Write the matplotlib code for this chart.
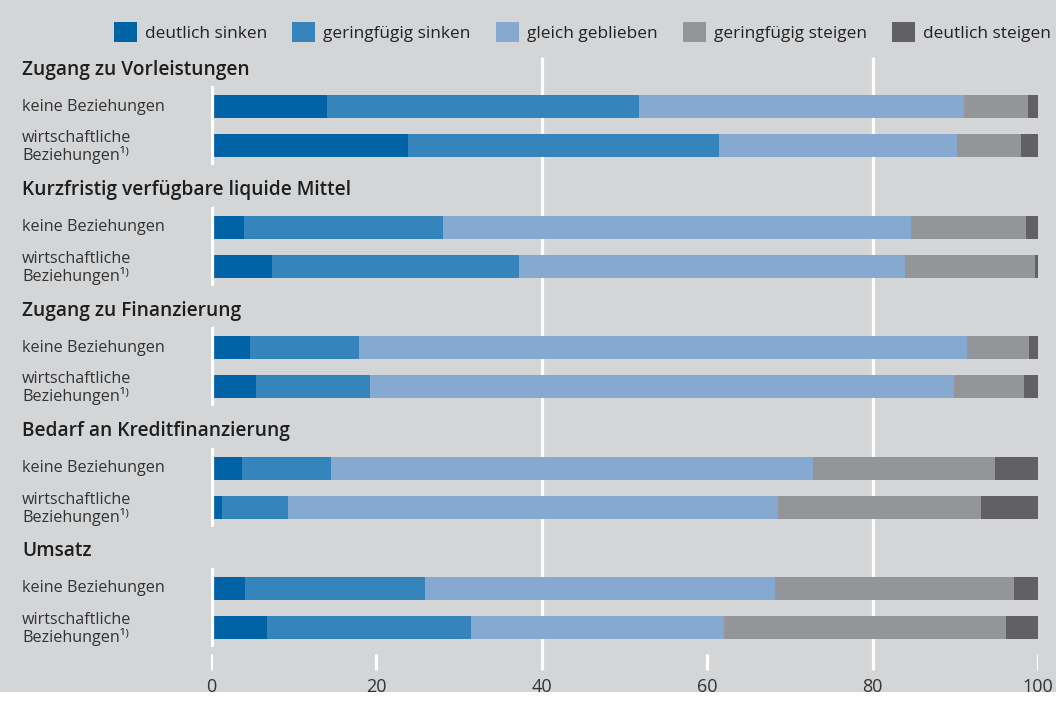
import matplotlib
matplotlib.use("Agg")
import matplotlib.pyplot as plt
import matplotlib.transforms as mtrans
from matplotlib.patches import Rectangle, Patch

# ---------------- data ----------------
groups = ["Zugang zu Vorleistungen", "Kurzfristig verfügbare liquide Mittel",
          "Zugang zu Finanzierung", "Bedarf an Kreditfinanzierung", "Umsatz"]
row_labels = ["keine Beziehungen", "wirtschaftliche\nBeziehungen¹⁾"]
series_names = ["deutlich sinken", "geringfügig sinken", "gleich geblieben",
                "geringfügig steigen", "deutlich steigen"]

# order: group1-keine, group1-wirtsch., group2-keine, ...
deutlich_sinken     = [14.0, 23.8, 4.0, 7.4, 4.7, 5.4, 3.7, 1.3, 4.1, 6.8]
geringfuegig_sinken = [37.7, 37.6, 24.1, 29.9, 13.2, 13.8, 10.8, 8.0, 21.8, 24.6]
gleich_geblieben    = [39.3, 28.8, 56.5, 46.6, 73.5, 70.7, 58.3, 59.3, 42.3, 30.6]
geringfuegig_steigen = [7.8, 7.7, 14.0, 15.7, 7.5, 8.4, 22.0, 24.5, 28.9, 34.1]
deutlich_steigen    = [1.2, 2.1, 1.4, 0.4, 1.1, 1.7, 5.2, 6.9, 2.9, 3.9]

xticks = [0, 20, 40, 60, 80, 100]
gridlines = [40, 80]

series_values = [deutlich_sinken, geringfuegig_sinken, gleich_geblieben,
                 geringfuegig_steigen, deutlich_steigen]
colors = ["#0063a5", "#3584bc", "#86a9d1", "#949598", "#616163"]

BG = "#d4d5d7"
FONT = ["Open Sans", "DejaVu Sans"]
plt.rcParams["font.family"] = FONT

W, H = 1061, 704
fig = plt.figure(figsize=(W / 100, H / 100), dpi=100)
fig.patch.set_facecolor("white")
fig.patches.append(Rectangle((0, 12 / H), 1056 / W, (H - 12) / H, transform=fig.transFigure,
                             facecolor=BG, edgecolor="none", zorder=-10))

# axes: x 0..100 mapped to pixel 211..1038, y in pixel units (top = 0)
ax = fig.add_axes([211 / W, 0, (1038 - 211) / W, 1])
ax.set_xlim(0, 100)
ax.set_ylim(H, 0)
ax.axis("off")
ax.patch.set_alpha(0)

bar_h = 23
first_center = 106.8
group_step = 120.4
row_step = 39.0

centers = []
for g in range(len(groups)):
    for r in range(len(row_labels)):
        centers.append(first_center + g * group_step + r * row_step)

lefts = [0.0] * len(centers)
for vals, col, name in zip(series_values, colors, series_names):
    ax.barh(centers, vals, left=lefts, height=bar_h, color=col,
            edgecolor="none", zorder=2, label=name)
    lefts = [a + b for a, b in zip(lefts, vals)]

# white grid lines and ticks
ax.vlines(gridlines, 57, 670, color="white", lw=2.3, zorder=1)
ax.vlines([t for t in xticks if t not in gridlines], 654, 670, color="white", lw=2.3, zorder=1)
for t in xticks:
    ax.text(t, 687, str(t), ha="center", va="center", fontsize=13, color="#333333")

# left white bar per group
for g in range(len(groups)):
    top = first_center + g * group_step - bar_h / 2 - 9
    bot = first_center + g * group_step + row_step + bar_h / 2 + 8
    ax.vlines(0, top, bot, color="white", lw=4.5, zorder=3)

# labels
tr = mtrans.blended_transform_factory(fig.transFigure, ax.transData)
for g, gname in enumerate(groups):
    yc = first_center + g * group_step
    ax.text(22 / W, yc - 37, gname, transform=tr, ha="left", va="center",
            fontsize=13.8, fontweight="semibold", color="#1e1e1e")
    for r, lab in enumerate(row_labels):
        ax.text(22 / W, yc + r * row_step + (1.5 if r else 0), lab, transform=tr,
                ha="left", va="center", fontsize=11.6, color="#333333", linespacing=1.0)

# legend
handles = [Patch(facecolor=c, edgecolor="none") for c in colors]
fig.legend(handles, series_names, loc="center right", bbox_to_anchor=(1051 / W, 1 - 32 / H),
           ncol=5, frameon=False, fontsize=12.4, handlelength=1.34, handleheight=1.34,
           handletextpad=0.46, columnspacing=1.47, borderaxespad=0, borderpad=0,
           labelcolor="#222222")

fig.savefig("out.png", dpi=100, facecolor=fig.get_facecolor())
